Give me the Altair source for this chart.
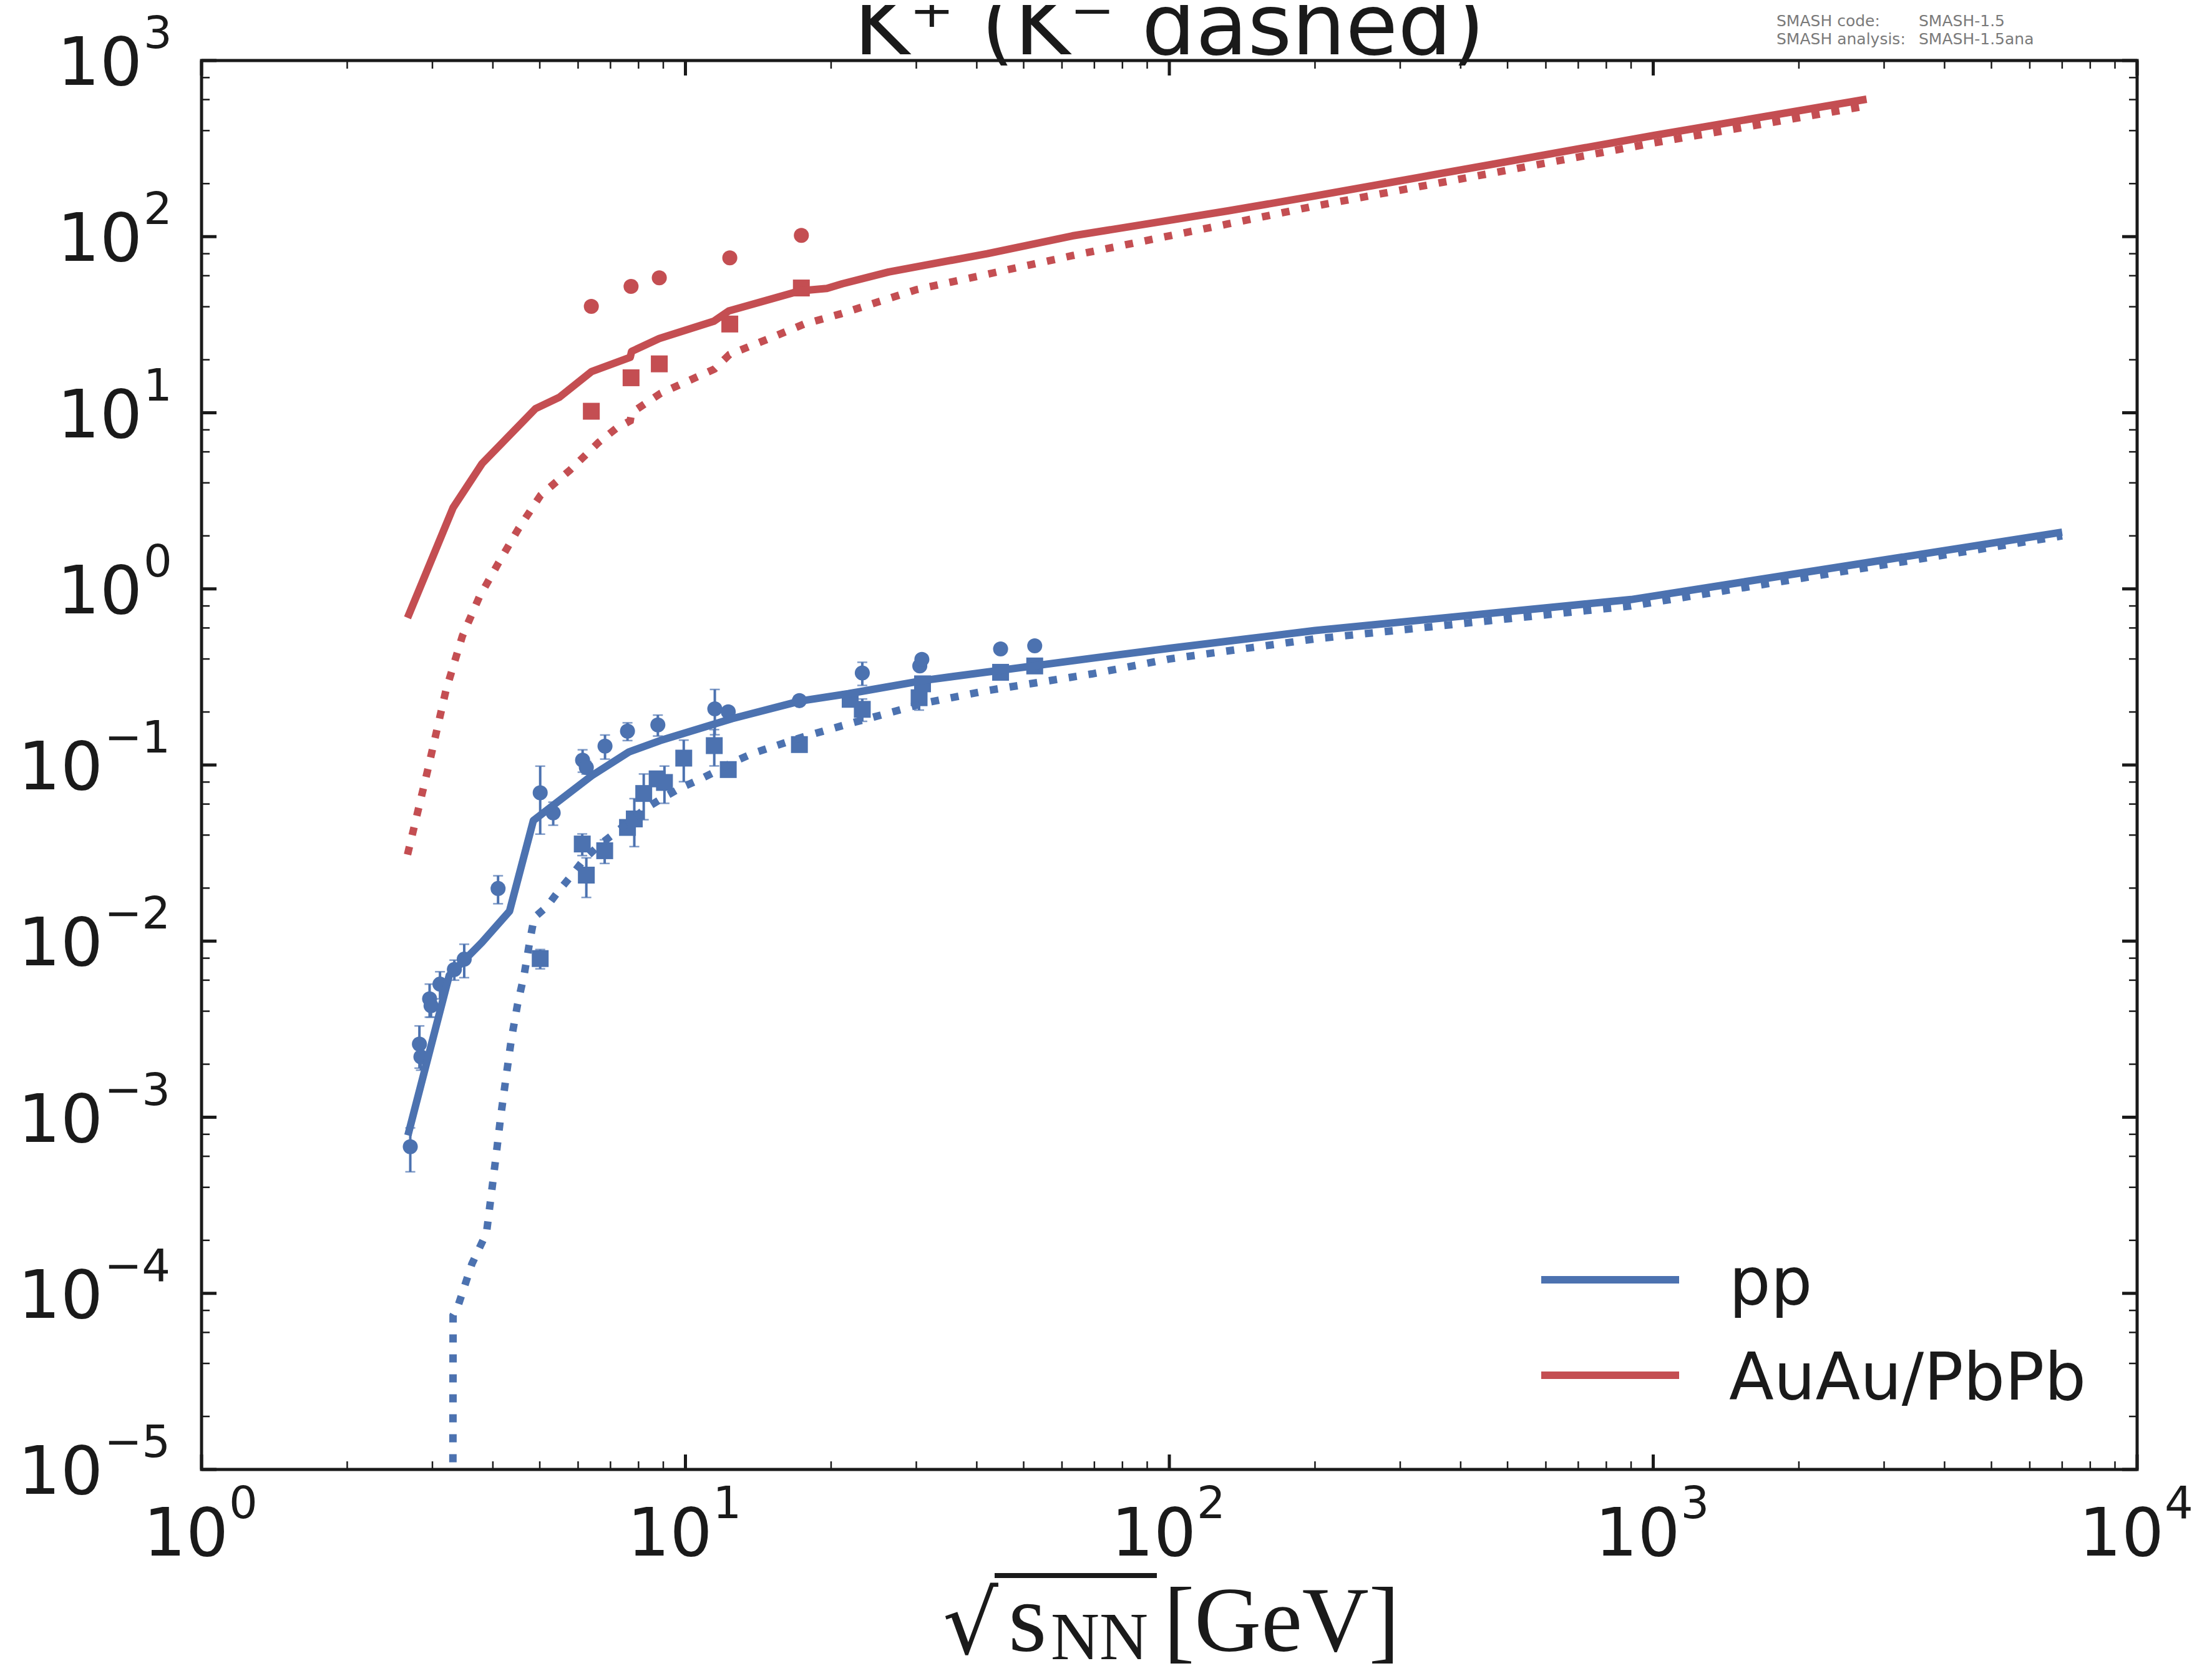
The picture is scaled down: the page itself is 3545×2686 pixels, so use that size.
import altair as alt
import pandas as pd

BLUE = "#4C72B0"
RED = "#C44E52"
INK = "#1a1a1a"
GREY = "#7a7a7a"

systems = ["pp", "AuAu/PbPb"]

# ---------------- SMASH model curves ----------------
pp_kplus_sqrts = [2.67, 3.25, 3.80, 4.33, 4.85, 6.40, 7.64, 8.87, 12.48, 17.3, 21.7,
                  31.3, 69.2, 100, 200, 900, 7000]
pp_kplus_yield = [7.9e-4, 6.38e-3, 9.86e-3, 0.0148, 0.0484, 0.0869, 0.1186, 0.1377,
                  0.1833, 0.231, 0.254, 0.303, 0.404, 0.46, 0.58, 0.87, 2.1]

pp_kminus_sqrts = [3.30, 3.31, 3.38, 3.62, 3.88, 4.06, 4.15, 4.26, 4.37, 4.50, 4.64,
                   4.78, 4.87, 5.17, 5.49, 5.83, 6.18, 6.62, 7.10, 7.61, 8.24, 8.92,
                   9.74, 10.65, 11.77, 12.5, 13.85, 17.1, 21.7, 31.3, 42.2, 69.2,
                   100, 200, 900, 7000]
pp_kminus_yield = [1e-7, 7.5e-5, 8.3e-5, 1.47e-4, 2.2e-4, 6.0e-4, 1.0e-3, 1.7e-3,
                   2.8e-3, 4.4e-3, 6.4e-3, 0.0104, 0.0136, 0.0157, 0.0195, 0.0238,
                   0.0292, 0.0349, 0.0405, 0.0471, 0.0562, 0.0644, 0.0738, 0.0822,
                   0.0942, 0.1036, 0.117, 0.1416, 0.171, 0.225, 0.265, 0.329, 0.40,
                   0.52, 0.80, 2.0]

aa_kplus_sqrts = [2.665, 3.31, 3.80, 4.90, 5.49, 6.39, 7.69, 7.74, 8.83, 11.45, 12.3,
                  17.3, 19.6, 21.1, 26.3, 42, 63, 132, 197, 1000, 2760]
aa_kplus_yield = [0.685, 2.89, 5.15, 10.55, 12.25, 17.1, 20.65, 22.3, 26.4, 33.1, 37.9,
                  49.3, 50.8, 54, 63, 80, 101, 140, 169, 375, 603]

aa_kminus_sqrts = [2.665, 2.94, 3.20, 3.46, 3.75, 4.10, 4.52, 5.02, 5.77, 6.62, 7.19,
                   7.69, 7.74, 8.89, 11.48, 12.33, 15.0, 17.6, 20.9, 30, 63, 132, 197,
                   1000, 2760]
aa_kminus_yield = [0.031, 0.096, 0.266, 0.54, 0.90, 1.39, 2.2, 3.4, 4.72, 6.8, 8.15,
                   9.0, 10.0, 12.9, 17.7, 21.4, 26.6, 31.9, 36.4, 50, 78, 118, 148,
                   340, 552]

# ---------------- experimental data ----------------
pp_kplus_data_sqrts = [2.70, 2.82, 2.84, 2.96, 2.98, 3.11, 3.33, 3.49, 4.10, 5.01, 5.33,
                       6.13, 6.24, 6.82, 7.59, 8.77, 11.5, 12.26, 17.2, 23.2, 30.5, 30.8,
                       44.8, 52.7]
pp_kplus_data_yield = [6.8e-4, 2.6e-3, 2.2e-3, 4.7e-3, 4.3e-3, 5.7e-3, 6.9e-3, 7.9e-3,
                       0.0199, 0.0695, 0.0535, 0.1065, 0.0968, 0.128, 0.1556, 0.169,
                       0.2085, 0.2005, 0.232, 0.333, 0.365, 0.398, 0.456, 0.475]
pp_kplus_data_err = [1.9e-4, 0.7e-3, 0.35e-3, 1.0e-3, 0.6e-3, 1.0e-3, 0.9e-3, 1.7e-3,
                     0.0036, 0.029, 0.008, 0.0155, 0.008, 0.02, 0.018, 0.023, 0.06, 0,
                     0.005, 0.05, 0, 0, 0, 0]

pp_kminus_data_sqrts = [5.01, 6.12, 6.24, 6.81, 7.59, 7.84, 8.20, 8.74, 9.05, 9.92,
                        11.47, 12.26, 17.2, 21.9, 23.2, 30.4, 30.9, 44.8, 52.7]
pp_kminus_data_yield = [7.96e-3, 0.0356, 0.0237, 0.0326, 0.0442, 0.0494, 0.0689, 0.0834,
                        0.0796, 0.1094, 0.1288, 0.0942, 0.1306, 0.236, 0.207, 0.241,
                        0.289, 0.336, 0.365]
pp_kminus_data_err = [1.0e-3, 0.005, 0.006, 0.005, 0, 0.015, 0.02, 0, 0.019, 0.029,
                      0.03, 0, 0, 0, 0.03, 0.036, 0, 0, 0]

aa_data_sqrts = [6.39, 7.72, 8.83, 12.35, 17.36]
aa_kplus_data_yield = [40.2, 52.2, 58.4, 75.8, 101.7]
aa_kminus_data_yield = [10.2, 15.8, 18.95, 31.9, 51.1]

# ---------------- axes / text ----------------
x_major = [1, 10, 100, 1000, 10000]
x_major_exp = ["0", "1", "2", "3", "4"]
y_major = [1e-5, 1e-4, 1e-3, 1e-2, 1e-1, 1, 10, 100, 1000]
y_major_exp = ["−5", "−4", "−3", "−2", "−1", "0", "1", "2", "3"]
tick_base = "10"
x_minor = [m * 10 ** k for k in range(0, 4) for m in range(2, 10)]
y_minor = [m * 10.0 ** k for k in range(-5, 3) for m in (2, 4, 6, 8)]

title_text = "K⁺ (K⁻ dashed)"
version_keys = ["SMASH code:", "SMASH analysis:"]
version_vals = ["SMASH-1.5", "SMASH-1.5ana"]
legend_labels = ["pp", "AuAu/PbPb"]
legend_colors = [BLUE, RED]

# ---------------- tables ----------------
def model_rows(E, v, system, particle):
    return pd.DataFrame({"sqrts": E, "yield": v, "system": system, "particle": particle})

model_df = pd.concat([
    model_rows(pp_kplus_sqrts, pp_kplus_yield, "pp", "K+"),
    model_rows(pp_kminus_sqrts, pp_kminus_yield, "pp", "K-"),
    model_rows(aa_kplus_sqrts, aa_kplus_yield, "AuAu/PbPb", "K+"),
    model_rows(aa_kminus_sqrts, aa_kminus_yield, "AuAu/PbPb", "K-"),
], ignore_index=True)

def data_rows(E, v, err, system, particle):
    return pd.DataFrame({"sqrts": E, "yield": v, "err": err, "system": system, "particle": particle})

data_df = pd.concat([
    data_rows(pp_kplus_data_sqrts, pp_kplus_data_yield, pp_kplus_data_err, "pp", "K+"),
    data_rows(pp_kminus_data_sqrts, pp_kminus_data_yield, pp_kminus_data_err, "pp", "K-"),
    data_rows(aa_data_sqrts, aa_kplus_data_yield, [0] * 5, "AuAu/PbPb", "K+"),
    data_rows(aa_data_sqrts, aa_kminus_data_yield, [0] * 5, "AuAu/PbPb", "K-"),
], ignore_index=True)
err_df = data_df[data_df["err"] > 0].copy()
err_df["lo"] = err_df["yield"] - err_df["err"]
err_df["hi"] = err_df["yield"] + err_df["err"]

xlab_df = pd.DataFrame({"v": x_major, "base": tick_base, "exp": x_major_exp})
ylab_df = pd.DataFrame({"v": y_major, "base": tick_base, "exp": y_major_exp})
ylab_df["neg"] = ylab_df["exp"].str.startswith("−")

# ---------------- layout ----------------
W, H = 3102, 2258
LAB_FS, EXP_FS = 107, 72
xs = alt.Scale(type="log", domain=[1, 10000], nice=False)
ys = alt.Scale(type="log", domain=[1e-5, 1000], nice=False)
col = alt.Scale(domain=systems, range=[BLUE, RED])

X = lambda f="sqrts": alt.X(f"{f}:Q", scale=xs, axis=None)
Y = lambda f="yield": alt.Y(f"{f}:Q", scale=ys, axis=None)
C = alt.Color("system:N", scale=col, legend=None)

layers = []

# inward ticks on all four sides
def ticks(values, side, length, width):
    base = alt.Chart(pd.DataFrame({"t": values})).mark_rule(color=INK, strokeWidth=width)
    if side == "bottom":
        return base.encode(x=alt.X("t:Q", scale=xs, axis=None), y=alt.value(H), y2=alt.value(H - length))
    if side == "top":
        return base.encode(x=alt.X("t:Q", scale=xs, axis=None), y=alt.value(0), y2=alt.value(length))
    if side == "left":
        return base.encode(y=alt.Y("t:Q", scale=ys, axis=None), x=alt.value(0), x2=alt.value(length))
    return base.encode(y=alt.Y("t:Q", scale=ys, axis=None), x=alt.value(W), x2=alt.value(W - length))

for side in ["bottom", "top"]:
    layers.append(ticks(x_minor, side, 13, 2.5))
    layers.append(ticks(x_major, side, 24, 5))
for side in ["left", "right"]:
    layers.append(ticks(y_minor, side, 13, 2.5))
    layers.append(ticks(y_major, side, 24, 5))

# tick labels "10" with superscript exponent (through the log scales)
txt = dict(baseline="alphabetic", font="DejaVu Sans", color=INK)
layers.append(alt.Chart(xlab_df).mark_text(align="right", dx=43, fontSize=LAB_FS, **txt)
              .encode(x=alt.X("v:Q", scale=xs, axis=None), y=alt.value(H + 138), text="base:N"))
layers.append(alt.Chart(xlab_df).mark_text(align="left", dx=44, fontSize=EXP_FS, **txt)
              .encode(x=alt.X("v:Q", scale=xs, axis=None), y=alt.value(H + 138 - 60), text="exp:N"))
for neg, xb in [(False, -95), (True, -158)]:
    sub = alt.Chart(ylab_df).transform_filter(f"datum.neg == {'true' if neg else 'false'}")
    layers.append(sub.mark_text(align="right", dy=39, fontSize=LAB_FS, **txt)
                  .encode(y=alt.Y("v:Q", scale=ys, axis=None), x=alt.value(xb), text="base:N"))
    layers.append(sub.mark_text(align="left", dy=39 - 59, fontSize=EXP_FS, **txt)
                  .encode(y=alt.Y("v:Q", scale=ys, axis=None), x=alt.value(xb + 2), text="exp:N"))

# error bars
layers.append(alt.Chart(err_df).mark_rule(strokeWidth=4).encode(x=X(), y=Y("lo"), y2="hi:Q", color=C))
layers.append(alt.Chart(err_df).mark_tick(orient="horizontal", size=16, thickness=2.5).encode(x=X(), y=Y("hi"), color=C))
layers.append(alt.Chart(err_df).mark_tick(orient="horizontal", size=16, thickness=2.5).encode(x=X(), y=Y("lo"), color=C))

# data markers
layers.append(alt.Chart(data_df).transform_filter("datum.particle == 'K+'")
              .mark_point(shape="circle", filled=True, size=580, opacity=1)
              .encode(x=X(), y=Y(), color=C))
layers.append(alt.Chart(data_df).transform_filter("datum.particle == 'K-'")
              .mark_point(shape="square", filled=True, size=730, opacity=1)
              .encode(x=X(), y=Y(), color=C))

# model lines
layers.append(alt.Chart(model_df).transform_filter("datum.particle == 'K-'")
              .mark_line(strokeWidth=12, strokeDash=[13, 19], clip=True)
              .encode(x=X(), y=Y(), color=C))
layers.append(alt.Chart(model_df).transform_filter("datum.particle == 'K+'")
              .mark_line(strokeWidth=12, clip=True, strokeJoin="round")
              .encode(x=X(), y=Y(), color=C))

# legend (inside plot, lower right)
for i, (lab, c) in enumerate(zip(legend_labels, legend_colors)):
    yrow = 1954 + 153 * i
    layers.append(alt.Chart(pd.DataFrame({"l": [lab]})).mark_rule(color=c, strokeWidth=12)
                  .encode(x=alt.value(2147), x2=alt.value(2368), y=alt.value(yrow)))
    layers.append(alt.Chart(pd.DataFrame({"l": [lab]}))
                  .mark_text(align="left", baseline="middle", font="DejaVu Sans", fontSize=105, color=INK)
                  .encode(text="l:N", x=alt.value(2448), y=alt.value(yrow + 7)))

# title
layers.append(alt.Chart(pd.DataFrame({"t": [title_text]}))
              .mark_text(align="center", baseline="alphabetic", font="DejaVu Sans", fontSize=136, color=INK)
              .encode(text="t:N", x=alt.value(W / 2), y=alt.value(-10)))

# version info
for i, (k, v) in enumerate(zip(version_keys, version_vals)):
    yb = -55 + 29 * i
    layers.append(alt.Chart(pd.DataFrame({"t": [k]}))
                  .mark_text(align="left", baseline="alphabetic", font="DejaVu Sans", fontSize=25, color=GREY)
                  .encode(text="t:N", x=alt.value(2524), y=alt.value(yb)))
    layers.append(alt.Chart(pd.DataFrame({"t": [v]}))
                  .mark_text(align="left", baseline="alphabetic", font="DejaVu Sans", fontSize=25, color=GREY)
                  .encode(text="t:N", x=alt.value(2752), y=alt.value(yb)))

# x-axis title: sqrt(s_NN) [GeV]
xt = [("√", "DejaVu Serif", 140, "right", 1277, 2553),
      ("s", "Liberation Serif", 158, "left", 1293, 2548),
      ("NN", "Liberation Serif", 108, "left", 1361, 2562),
      ("[GeV]", "Liberation Serif", 148, "left", 1542, 2549)]
for t, fnt, fs, al, xx, yy in xt:
    layers.append(alt.Chart(pd.DataFrame({"t": [t]}))
                  .mark_text(align=al, baseline="alphabetic", font=fnt, fontSize=fs, color=INK)
                  .encode(text="t:N", x=alt.value(xx), y=alt.value(yy)))
layers.append(alt.Chart(pd.DataFrame({"t": ["bar"]})).mark_rule(color=INK, strokeWidth=8)
              .encode(x=alt.value(1271), x2=alt.value(1531), y=alt.value(2428)))

chart = (alt.layer(*layers)
         .properties(width=W, height=H,
                     padding={"left": 315, "top": 89, "right": 110, "bottom": 330},
                     autosize=alt.AutoSizeParams(type="none"), background="white")
         .configure_view(stroke=INK, strokeWidth=5))

chart.save("out.html", embed_options={"renderer": "svg", "actions": False})
